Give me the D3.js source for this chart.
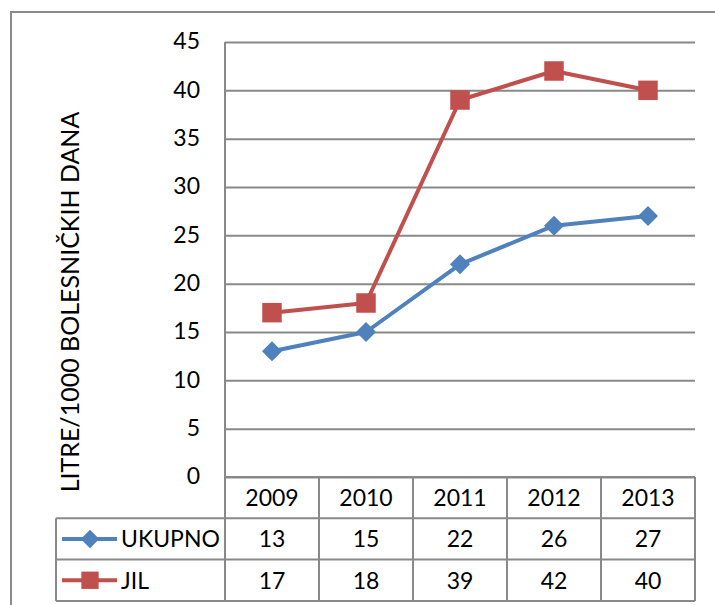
<!DOCTYPE html>
<html>
<head>
<meta charset="utf-8">
<script src="https://cdn.jsdelivr.net/npm/d3@7"></script>
<style>
  body { margin: 0; background: #fff; }
  text { font-family: Lato, "Open Sans", sans-serif; fill: #000; }
</style>
</head>
<body>
<div id="chart"></div>
<script>
var years = ["2009", "2010", "2011", "2012", "2013"];
var ukupno = [13, 15, 22, 26, 27];
var jil = [17, 18, 39, 42, 40];
var yTicks = [0, 5, 10, 15, 20, 25, 30, 35, 40, 45];
var yTitle = "LITRE/1000 BOLESNIČKIH DANA";

var series = [
  {name: "UKUPNO", values: ukupno, color: "#4F81BD", rotate: 45, size: [170, 200]},
  {name: "JIL", values: jil, color: "#C0504D", rotate: 0, size: [300, 380]}
];

var width = 715, height = 605;
var plot = {left: 225, right: 695, top: 42, bottom: 477};
var rowH = 41.3, tableLeft = 56;
var gridColor = "#898989";

var svg = d3.select("#chart").append("svg")
  .attr("width", width)
  .attr("height", height);

// outer frame
svg.append("rect")
  .attr("x", 11).attr("y", 12)
  .attr("width", 720).attr("height", 620)
  .attr("fill", "none")
  .attr("stroke", gridColor)
  .attr("stroke-width", 2);

var x = d3.scaleBand()
  .domain(years)
  .range([plot.left, plot.right])
  .padding(0);

var y = d3.scaleLinear()
  .domain([0, 45])
  .range([plot.bottom, plot.top]);

// gridlines
svg.append("g")
  .attr("transform", "translate(" + plot.left + ",0)")
  .call(d3.axisLeft(y).tickValues(yTicks).tickSize(-(plot.right - plot.left)).tickFormat(""))
  .call(function(g) { g.select(".domain").remove(); })
  .selectAll("line")
  .attr("stroke", gridColor)
  .attr("stroke-width", 2);

// y labels
svg.append("g")
  .attr("transform", "translate(" + 200 + ",0)")
  .call(d3.axisLeft(y).tickValues(yTicks).tickSize(0).tickPadding(0))
  .call(function(g) { g.select(".domain").remove(); })
  .selectAll("text")
  .style("font-size", "23px")
  .attr("dy", "0.3em");

// y axis line
svg.append("line")
  .attr("x1", plot.left).attr("x2", plot.left)
  .attr("y1", plot.top).attr("y2", plot.bottom + rowH * 3)
  .attr("stroke", gridColor).attr("stroke-width", 2);

// y title
svg.append("text")
  .attr("transform", "translate(79," + 302 + ") rotate(-90)")
  .attr("text-anchor", "middle")
  .style("font-size", "25px")
  .text(yTitle);

// data table
var table = svg.append("g");
var rowTops = [plot.bottom, plot.bottom + rowH, plot.bottom + rowH * 2, plot.bottom + rowH * 3];

table.append("line")
  .attr("x1", plot.left).attr("x2", plot.right)
  .attr("y1", rowTops[0]).attr("y2", rowTops[0]);
[1, 2, 3].forEach(function(i) {
  table.append("line")
    .attr("x1", tableLeft).attr("x2", plot.right)
    .attr("y1", rowTops[i]).attr("y2", rowTops[i]);
});
years.forEach(function(yr) {
  table.append("line")
    .attr("x1", x(yr) + x.bandwidth()).attr("x2", x(yr) + x.bandwidth())
    .attr("y1", rowTops[0]).attr("y2", rowTops[3]);
});
table.append("line")
  .attr("x1", tableLeft).attr("x2", tableLeft)
  .attr("y1", rowTops[1]).attr("y2", rowTops[3]);
table.selectAll("line").attr("stroke", gridColor).attr("stroke-width", 2);

table.selectAll(".year")
  .data(years)
  .enter().append("text")
  .attr("x", function(d) { return x(d) + x.bandwidth() / 2; })
  .attr("y", rowTops[0] + rowH / 2)
  .attr("dy", "0.36em")
  .attr("text-anchor", "middle")
  .style("font-size", "23px")
  .text(function(d) { return d; });

series.forEach(function(s, i) {
  var rowY = rowTops[i + 1] + rowH / 2;
  table.selectAll(".val" + i)
    .data(s.values)
    .enter().append("text")
    .attr("x", function(d, j) { return x(years[j]) + x.bandwidth() / 2; })
    .attr("y", rowY)
    .attr("dy", "0.36em")
    .attr("text-anchor", "middle")
    .style("font-size", "23px")
    .text(function(d) { return d; });

  // legend key
  table.append("line")
    .attr("x1", 62).attr("x2", 117)
    .attr("y1", rowY).attr("y2", rowY)
    .attr("stroke", s.color).attr("stroke-width", 4);
  table.append("path")
    .attr("transform", "translate(90," + rowY + ") rotate(" + s.rotate + ")")
    .attr("d", d3.symbol().type(d3.symbolSquare).size(s.size[0])())
    .attr("fill", s.color);
  table.append("text")
    .attr("x", 121)
    .attr("y", rowY)
    .attr("dy", "0.36em")
    .style("font-size", "23px")
    .text(s.name);
});

// lines
var line = d3.line()
  .x(function(d, j) { return x(years[j]) + x.bandwidth() / 2; })
  .y(function(d) { return y(d); });

series.forEach(function(s, i) {
  svg.append("path")
    .datum(s.values)
    .attr("d", line)
    .attr("fill", "none")
    .attr("stroke", s.color)
    .attr("stroke-width", 4)
    .attr("stroke-linejoin", "round");

  svg.selectAll(".pt" + i)
    .data(s.values)
    .enter().append("path")
    .attr("transform", function(d, j) {
      return "translate(" + (x(years[j]) + x.bandwidth() / 2) + "," + y(d) + ") rotate(" + s.rotate + ")";
    })
    .attr("d", d3.symbol().type(d3.symbolSquare).size(s.size[1])())
    .attr("fill", s.color);
});
</script>
</body>
</html>
